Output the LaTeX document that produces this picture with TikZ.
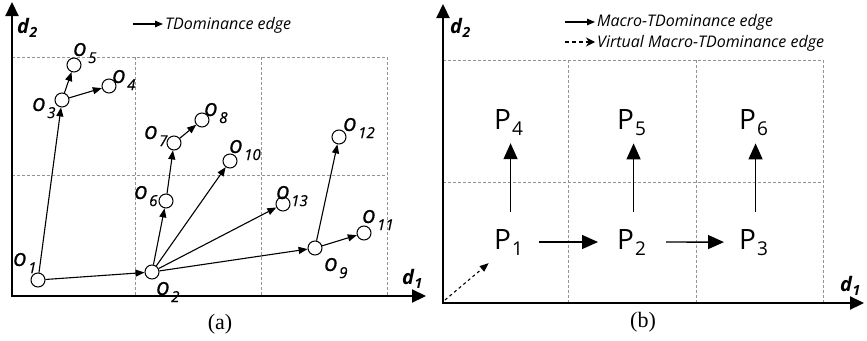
\documentclass[tikz,border=0pt]{standalone}
\usepackage{fontspec}
\setmainfont{Liberation Serif}
\newfontfamily\osans{Open Sans}
\newfontfamily\osheavy[FakeBold=0.5]{Open Sans}
\usetikzlibrary{arrows.meta}
\newcommand\olab[1]{{\osheavy\itshape\fontsize{24}{24}\selectfont o\hspace{1.5pt}\raisebox{-7pt}{\fontsize{15}{15}\selectfont #1}}}
\newcommand\plab[1]{{\osans\fontsize{28}{28}\selectfont P\hspace{1pt}\raisebox{-6pt}{\fontsize{19}{19}\selectfont #1}}}
\newcommand\dlab[1]{{\osans\bfseries\itshape\fontsize{20}{20}\selectfont d\hspace{0.5pt}\raisebox{-4pt}{\fontsize{14}{14}\selectfont #1}}}
\newcommand\legfont{\osans\itshape\fontsize{16}{16}\selectfont}
\begin{document}
\begin{tikzpicture}[x=1pt,y=-1pt,
  gridline/.style={draw=gray!85, dash pattern=on 3pt off 2pt, line width=0.8pt},
  axisline/.style={line width=2.2pt, {Triangle[length=14pt,width=13pt]}-{Triangle[length=14pt,width=13pt]}},
  edge/.style={line width=1.1pt, -{Triangle[length=9pt,width=7pt]}},
  legarrow/.style={line width=1.3pt, -{Triangle[length=8pt,width=6.5pt]}},
  pnt/.style={circle, draw, fill=white, line width=1pt, minimum size=14pt, inner sep=0pt},
  bigarrow/.style={line width=1.4pt, -{Triangle[length=16pt,width=14pt]}},
  lab/.style={anchor=base west, inner sep=0pt},
  captext/.style={inner sep=0pt, font=\fontsize{22}{22}\selectfont}]
\useasboundingbox (0,0) rectangle (867,340);

% ---------------- panel (a) ----------------
\draw[gridline] (12,57) -- (387,57);
\draw[gridline] (12,175) -- (387,175);
\draw[gridline] (135,57) -- (135,296);
\draw[gridline] (261,57) -- (261,296);
\draw[gridline] (387,57) -- (387,296);
\coordinate (aY) at (12,2);
\coordinate (aO) at (12,296);
\coordinate (aX) at (426,296);
\draw[axisline] (aY) -- (aO) -- (aX);
\node[lab] (ad2) at (17,33) {\dlab{2}};
\node[lab] (ad1) at (402,284) {\dlab{1}};
\coordinate (lgA) at (133,24);
\node[lab] (lgT) at (165,29) {\legfont TDominance edge};
\draw[legarrow, shorten >=2pt] (lgA) -- (lgA -| lgT.west);
\node[pnt] (o1) at (38,280) {};
\node[pnt] (o2) at (152,272) {};
\node[pnt] (o3) at (62,100) {};
\node[pnt] (o4) at (109,86) {};
\node[pnt] (o5) at (74,65) {};
\node[pnt] (o6) at (166,201) {};
\node[pnt] (o7) at (174,143) {};
\node[pnt] (o8) at (202,120) {};
\node[pnt] (o9) at (315,248) {};
\node[pnt] (o10) at (230,161) {};
\node[pnt] (o11) at (364,233) {};
\node[pnt] (o12) at (339,137) {};
\node[pnt] (o13) at (283,204) {};
\draw[edge] (o1) -- (o3);
\draw[edge] (o1) -- (o2);
\draw[edge] (o3) -- (o5);
\draw[edge] (o3) -- (o4);
\draw[edge] (o2) -- (o6);
\draw[edge] (o6) -- (o7);
\draw[edge] (o7) -- (o8);
\draw[edge] (o2) -- (o10);
\draw[edge] (o2) -- (o13);
\draw[edge] (o2) -- (o9);
\draw[edge] (o9) -- (o12);
\draw[edge] (o9) -- (o11);
\node[lab] (l1) at (13,266) {\olab{1}};
\node[lab] (l2) at (156,295) {\olab{2}};
\node[lab] (l3) at (32,111) {\olab{3}};
\node[lab] (l4) at (112,83) {\olab{4}};
\node[lab] (l5) at (73,56) {\olab{5}};
\node[lab] (l6) at (134,199) {\olab{6}};
\node[lab] (l7) at (144,139) {\olab{7}};
\node[lab] (l8) at (204,116) {\olab{8}};
\node[lab] (l9) at (324,271) {\olab{9}};
\node[lab] (l10) at (229,153) {\olab{10}};
\node[lab] (l11) at (362,223) {\olab{11}};
\node[lab] (l12) at (343,131) {\olab{12}};
\node[lab] (l13) at (276,199) {\olab{13}};
\node[captext] (capa) at (220,324) {(a)};

% ---------------- panel (b) ----------------
\draw[gridline] (443,60) -- (823,60);
\draw[gridline] (443,182) -- (823,182);
\draw[gridline] (568,60) -- (568,303);
\draw[gridline] (696,60) -- (696,303);
\draw[gridline] (823,60) -- (823,303);
\coordinate (bY) at (443,4);
\coordinate (bO) at (443,303);
\coordinate (bX) at (864,303);
\draw[axisline] (bY) -- (bO) -- (bX);
\node[lab] (bd2) at (450,33) {\dlab{2}};
\node[lab] (bd1) at (840,291) {\dlab{1}};
\coordinate (rgA) at (565,22);
\node[lab] (rgT) at (597,27) {\legfont Macro-TDominance edge};
\draw[legarrow, shorten >=2pt] (rgA) -- (rgA -| rgT.west);
\coordinate (rgB) at (565,42);
\node[lab] (rgU) at (597,47) {\legfont Virtual Macro-TDominance edge};
\draw[line width=1.4pt, dash pattern=on 4pt off 3pt, -{Stealth[length=9pt,width=9pt]}, shorten >=2pt] (rgB) -- (rgB -| rgU.west);
\node[lab] (P1) at (494,249) {\plab{1}};
\node[lab] (P2) at (617,249) {\plab{2}};
\node[lab] (P3) at (739,249) {\plab{3}};
\node[lab] (P4) at (494,129) {\plab{4}};
\node[lab] (P5) at (617,129) {\plab{5}};
\node[lab] (P6) at (739,129) {\plab{6}};
\draw[bigarrow, shorten <=16pt, shorten >=19pt] (P1.east) -- (P2.west);
\draw[bigarrow, shorten <=20pt, shorten >=15pt] (P2.east) -- (P3.west);
\draw[bigarrow, shorten <=17pt, shorten >=8pt] ([xshift=2pt]P1.north) -- ([xshift=2pt]P4.south);
\draw[bigarrow, shorten <=17pt, shorten >=8pt] ([xshift=2pt]P2.north) -- ([xshift=2pt]P5.south);
\draw[bigarrow, shorten <=17pt, shorten >=8pt] ([xshift=2pt]P3.north) -- ([xshift=2pt]P6.south);
\coordinate (vS) at (445,300);
\draw[line width=1.1pt, dash pattern=on 3pt off 3pt, -{Triangle[length=9pt,width=7pt]}, shorten >=3pt] (vS) -- ([xshift=-3pt,yshift=-6pt]P1.south west);
\node[captext] (capb) at (643,322) {(b)};
\end{tikzpicture}
\end{document}
